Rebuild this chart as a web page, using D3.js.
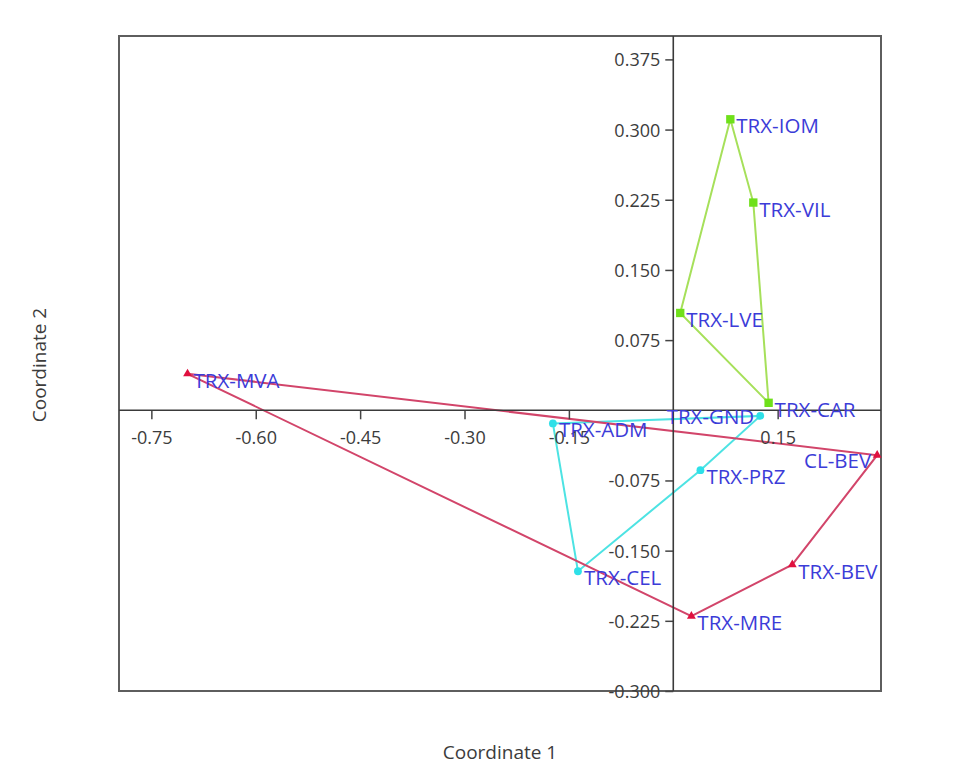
<!DOCTYPE html>
<html>
<head>
<meta charset="utf-8">
<script src="https://cdn.jsdelivr.net/npm/d3@7"></script>
<style>
  html, body { margin: 0; padding: 0; background: #ffffff; }
  svg { display: block; }
  text { font-family: "Open Sans", "Noto Sans", sans-serif; }
</style>
</head>
<body>
<svg id="chart" width="979" height="765"></svg>
<script>
// Principal coordinates of the samples, grouped by cluster
const groupNames = ["green", "cyan", "red"];
const greenLabels = ["TRX-IOM", "TRX-VIL", "TRX-CAR", "TRX-LVE"];
const greenX = [0.082, 0.115, 0.137, 0.010];
const greenY = [0.311, 0.222, 0.008, 0.104];

const cyanLabels = ["TRX-ADM", "TRX-GND", "TRX-PRZ", "TRX-CEL"];
const cyanX = [-0.173, 0.125, 0.039, -0.137];
const cyanY = [-0.014, -0.006, -0.064, -0.172];

const redLabels = ["TRX-MVA", "CL-BEV", "TRX-BEV", "TRX-MRE"];
const redX = [-0.698, 0.293, 0.171, 0.026];
const redY = [0.039, -0.048, -0.165, -0.220];

const xTicks = [-0.75, -0.60, -0.45, -0.30, -0.15, 0.15];
const yTicks = [0.375, 0.300, 0.225, 0.150, 0.075, -0.075, -0.150, -0.225, -0.300];

// Labels that sit to the left of their marker
const leftLabels = ["CL-BEV", "TRX-GND"];

const groups = [
  { name: groupNames[0], labels: greenLabels, xs: greenX, ys: greenY,
    line: "#a6e05a", fill: "#6fe01a", shape: d3.symbolSquare, size: 70 },
  { name: groupNames[1], labels: cyanLabels, xs: cyanX, ys: cyanY,
    line: "#4de3e3", fill: "#2ee0e8", shape: d3.symbolCircle, size: 48 },
  { name: groupNames[2], labels: redLabels, xs: redX, ys: redY,
    line: "#d2456a", fill: "#e0103f", shape: d3.symbolTriangle, size: 34 }
];

const svg = d3.select("#chart");
const plotLeft = 119, plotRight = 881, plotTop = 36, plotBottom = 691;

const x = d3.scaleLinear().domain([-0.7965, 0.2985]).range([plotLeft, plotRight]);
const y = d3.scaleLinear().domain([-0.3, 0.4]).range([plotBottom, plotTop]);

// Plain hyphen for negative numbers
const locale = d3.formatLocale({ decimal: ".", thousands: ",", grouping: [3], currency: ["", ""], minus: "-" });

// Plot frame
svg.append("rect")
  .attr("x", plotLeft).attr("y", plotTop)
  .attr("width", plotRight - plotLeft).attr("height", plotBottom - plotTop)
  .attr("fill", "#ffffff")
  .attr("stroke", "#5e5e5e").attr("stroke-width", 2);

// Convex hull outlines per group
groups.forEach(g => {
  const pts = g.xs.map((v, i) => [x(v), y(g.ys[i])]);
  svg.append("path")
    .attr("d", d3.line()(pts.concat([pts[0]])))
    .attr("fill", "none")
    .attr("stroke", g.line)
    .attr("stroke-width", 2);
});

// Axes through the origin
const xAxis = d3.axisBottom(x).tickValues(xTicks).tickFormat(locale.format(".2f")).tickSize(9).tickPadding(12);
const yAxis = d3.axisLeft(y).tickValues(yTicks).tickFormat(locale.format(".3f")).tickSize(8).tickPadding(5);

const gx = svg.append("g").attr("transform", `translate(0,${y(0)})`).call(xAxis);
const gy = svg.append("g").attr("transform", `translate(${x(0)},0)`).call(yAxis);

[gx, gy].forEach(g => {
  g.select(".domain").remove();
  g.selectAll(".tick line").attr("stroke", "#444").attr("stroke-width", 1.5);
  g.selectAll(".tick text")
    .attr("fill", "#3c3c3c")
    .style("font-size", "18px")
    .style("font-family", "'Open Sans', 'Noto Sans', sans-serif");
});
gy.selectAll(".tick text").attr("dy", "0.36em");

svg.append("line")
  .attr("x1", plotLeft).attr("x2", plotRight)
  .attr("y1", y(0)).attr("y2", y(0))
  .attr("stroke", "#3a3a3a").attr("stroke-width", 1.6);
svg.append("line")
  .attr("x1", x(0)).attr("x2", x(0))
  .attr("y1", plotTop).attr("y2", plotBottom)
  .attr("stroke", "#3a3a3a").attr("stroke-width", 1.6);

// Markers
groups.forEach(g => {
  const sym = d3.symbol().type(g.shape).size(g.size);
  g.xs.forEach((v, i) => {
    svg.append("path")
      .attr("d", sym())
      .attr("transform", `translate(${x(v)},${y(g.ys[i])})`)
      .attr("fill", g.fill);
  });
});

// Point labels
groups.forEach(g => {
  g.xs.forEach((v, i) => {
    const lab = g.labels[i];
    const atEnd = leftLabels.includes(lab);
    const dy = lab === "TRX-GND" ? 8 : (lab === "CL-BEV" ? 13 : 14);
    svg.append("text")
      .attr("x", x(v) + (atEnd ? -6 : 6))
      .attr("y", y(g.ys[i]) + dy)
      .attr("text-anchor", atEnd ? "end" : "start")
      .attr("fill", "#3c3cd8")
      .style("font-size", "20.5px")
      .text(lab);
  });
});

// Axis titles
svg.append("text")
  .attr("x", (plotLeft + plotRight) / 2).attr("y", 759)
  .attr("text-anchor", "middle")
  .attr("fill", "#3c3c3c")
  .style("font-size", "19px")
  .text("Coordinate 1");

svg.append("text")
  .attr("transform", `translate(46,365) rotate(-90)`)
  .attr("text-anchor", "middle")
  .attr("fill", "#3c3c3c")
  .style("font-size", "19px")
  .text("Coordinate 2");
</script>
</body>
</html>
